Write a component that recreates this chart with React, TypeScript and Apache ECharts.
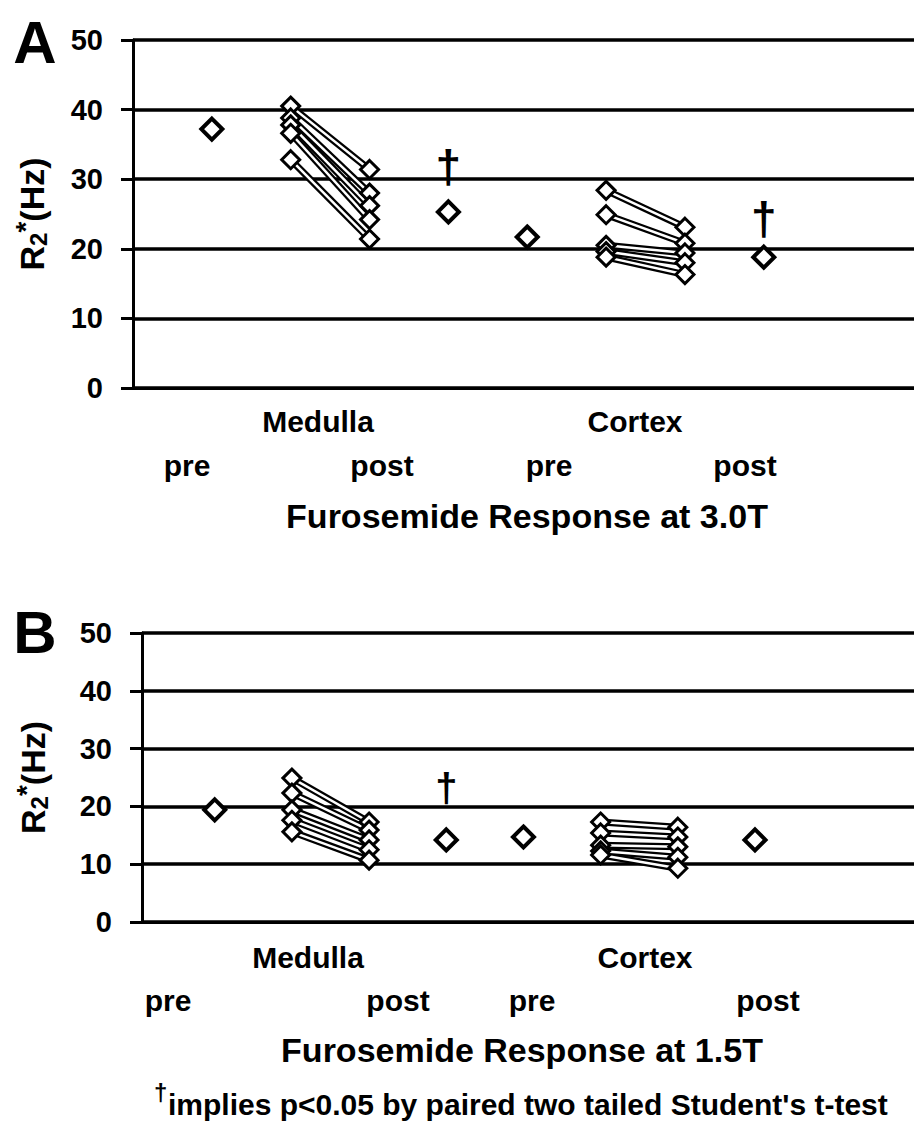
import React, { useEffect, useRef } from "react";
import * as echarts from "echarts";

// x slots (category positions along each panel)
const X_MED_PRE_MEAN = 1;
const X_MED_PRE = 2;
const X_MED_POST = 3;
const X_MED_POST_MEAN = 4;
const X_COR_PRE_MEAN = 5;
const X_COR_PRE = 6;
const X_COR_POST = 7;
const X_COR_POST_MEAN = 8;

const yTicks = [0, 10, 20, 30, 40, 50];

// Panel A : 3.0T
const a3MedullaPre = [40.5, 38.8, 37.8, 36.6, 32.8];
const a3MedullaPost = [31.4, 28.0, 26.2, 24.2, 21.4];
const a3MedullaMeans = [37.2, 25.3];
const a3CortexPre = [28.4, 24.9, 20.5, 19.6, 18.8];
const a3CortexPost = [23.1, 20.8, 19.4, 18.0, 16.3];
const a3CortexMeans = [21.7, 18.8];
const a3DaggerMedulla = 31.7;
const a3DaggerCortex = 24.3;

// Panel B : 1.5T
const b15MedullaPre = [24.9, 22.3, 19.4, 17.6, 15.6];
const b15MedullaPost = [17.3, 15.9, 14.2, 12.5, 10.7];
const b15MedullaMeans = [19.4, 14.2];
const b15CortexPre = [17.3, 15.4, 13.3, 12.3, 11.6];
const b15CortexPost = [16.4, 14.7, 13.0, 11.2, 9.3];
const b15CortexMeans = [14.7, 14.2];
const b15DaggerMedulla = 23.2;

const regionLabels = ["Medulla", "Cortex"];
const phaseLabels = ["pre", "post", "pre", "post"];
const panelTitles = ["Furosemide Response at 3.0T", "Furosemide Response at 1.5T"];
const panelLetters = ["A", "B"];
const footnote = "implies p<0.05 by paired two tailed Student's t-test";

const FONT = '"Liberation Sans", Arial, sans-serif';

function panelSeries(
  idx: number,
  medPre: number[],
  medPost: number[],
  medMeans: number[],
  corPre: number[],
  corPost: number[],
  corMeans: number[],
  daggers: number[][]
) {
  const series: any[] = [];
  const pairs: number[][][] = [];
  medPre.forEach((v, i) => pairs.push([[X_MED_PRE, v], [X_MED_POST, medPost[i]]]));
  corPre.forEach((v, i) => pairs.push([[X_COR_PRE, v], [X_COR_POST, corPost[i]]]));
  pairs.forEach((d) =>
    series.push({
      type: "line",
      xAxisIndex: idx,
      yAxisIndex: idx,
      data: d,
      symbol: "none",
      showSymbol: false,
      lineStyle: { color: "#000", width: 7 },
      z: 2,
      silent: true,
    })
  );
  pairs.forEach((d) =>
    series.push({
      type: "line",
      xAxisIndex: idx,
      yAxisIndex: idx,
      data: d,
      symbol: "diamond",
      symbolSize: 18,
      showSymbol: true,
      itemStyle: { color: "#fff", borderColor: "#000", borderWidth: 3, opacity: 1 },
      lineStyle: { color: "#fff", width: 2.5 },
      z: 3,
      silent: true,
    })
  );
  series.push({
    type: "scatter",
    xAxisIndex: idx,
    yAxisIndex: idx,
    data: [
      [X_MED_PRE_MEAN, medMeans[0]],
      [X_MED_POST_MEAN, medMeans[1]],
      [X_COR_PRE_MEAN, corMeans[0]],
      [X_COR_POST_MEAN, corMeans[1]],
    ],
    symbol: "diamond",
    symbolSize: 21,
    itemStyle: { color: "#fff", borderColor: "#000", borderWidth: 4, opacity: 1 },
    z: 4,
    silent: true,
  });
  series.push({
    type: "scatter",
    xAxisIndex: idx,
    yAxisIndex: idx,
    data: daggers,
    symbol: "circle",
    symbolSize: 1,
    itemStyle: { color: "rgba(0,0,0,0)", opacity: 1 },
    label: {
      show: true,
      formatter: "\u2020",
      position: "inside",
      fontSize: idx === 0 ? 46 : 40,
      fontWeight: "bold",
      fontFamily: FONT,
      color: "#000",
      opacity: 1,
    },
    z: 5,
    silent: true,
  });
  return series;
}

function yAxisCfg(idx: number, gap: number) {
  return {
    type: "value",
    gridIndex: idx,
    min: yTicks[0],
    max: yTicks[yTicks.length - 1],
    interval: 10,
    axisLine: { show: true, lineStyle: { color: "#000", width: 3 } },
    axisTick: { show: true, length: 12, lineStyle: { color: "#000", width: 3 } },
    axisLabel: {
      color: "#000",
      fontSize: 29,
      fontWeight: "bold",
      fontFamily: FONT,
      margin: 30,
    },
    splitLine: { show: true, lineStyle: { color: "#000", width: 3.5 } },
    name: "{r|R}{sub|2}{sup|*}{r|(Hz)}",
    nameLocation: "middle",
    nameRotate: 90,
    nameGap: gap,
    nameTextStyle: {
      rich: {
        r: { fontSize: 34, fontWeight: "bold", fontFamily: FONT, color: "#000" },
        sub: { fontSize: 24, fontWeight: "bold", fontFamily: FONT, color: "#000", padding: [12, 0, 0, 0] },
        sup: { fontSize: 28, fontWeight: "bold", fontFamily: FONT, color: "#000", padding: [0, 0, 14, 0] },
      },
    },
  };
}

function xAxisCfg(idx: number, min: number, max: number) {
  return {
    type: "value",
    gridIndex: idx,
    min,
    max,
    axisLine: { show: true, onZero: true, lineStyle: { color: "#000", width: 3 } },
    axisTick: { show: false },
    axisLabel: { show: false },
    splitLine: { show: false },
  };
}

function txt(text: string, x: number, y: number, size: number, align = "center", weight = "bold") {
  return {
    type: "text",
    x,
    y,
    silent: true,
    style: {
      text,
      fill: "#000",
      fontSize: size,
      fontWeight: weight,
      fontFamily: FONT,
      textAlign: align,
      textVerticalAlign: "middle",
    },
  };
}

export default function App() {
  const ref = useRef<HTMLDivElement>(null);
  useEffect(() => {
    document.body.style.margin = "0";
    if (!ref.current) return;
    const chart = echarts.init(ref.current, null, { renderer: "svg" });
    const series = [
      ...panelSeries(0, a3MedullaPre, a3MedullaPost, a3MedullaMeans, a3CortexPre, a3CortexPost, a3CortexMeans, [
        [X_MED_POST_MEAN, a3DaggerMedulla],
        [X_COR_POST_MEAN, a3DaggerCortex],
      ]),
      ...panelSeries(1, b15MedullaPre, b15MedullaPost, b15MedullaMeans, b15CortexPre, b15CortexPost, b15CortexMeans, [
        [X_MED_POST_MEAN, b15DaggerMedulla],
      ]),
    ];
    const graphic: any[] = [
      txt(panelLetters[0], 35, 42, 60),
      txt(panelLetters[1], 35, 632, 60),
      // panel A labels
      txt(regionLabels[0], 318, 421, 30),
      txt(regionLabels[1], 635, 421, 30),
      txt(phaseLabels[0], 187, 465, 30),
      txt(phaseLabels[1], 382, 465, 30),
      txt(phaseLabels[2], 549, 465, 30),
      txt(phaseLabels[3], 745, 465, 30),
      txt(panelTitles[0], 527, 516, 34),
      // panel B labels
      txt(regionLabels[0], 308, 957, 30),
      txt(regionLabels[1], 645, 957, 30),
      txt(phaseLabels[0], 168, 1000, 30),
      txt(phaseLabels[1], 398, 1000, 30),
      txt(phaseLabels[2], 532, 1000, 30),
      txt(phaseLabels[3], 768, 1000, 30),
      txt(panelTitles[1], 522, 1050, 34),
      txt("\u2020", 154, 1092, 24, "left"),
      txt(footnote, 168, 1104, 30, "left"),
    ];
    chart.setOption({
      animation: false,
      backgroundColor: "#fff",
      grid: [
        { left: 133, top: 40, width: 781, height: 348 },
        { left: 142, top: 633, width: 772, height: 289 },
      ],
      xAxis: [xAxisCfg(0, 0, 9.905), xAxisCfg(1, 0.058, 10.06)],
      yAxis: [yAxisCfg(0, 80), yAxisCfg(1, 88)],
      series,
      graphic,
    });
    return () => chart.dispose();
  }, []);
  return <div ref={ref} style={{ width: 914, height: 1146 }} />;
}
